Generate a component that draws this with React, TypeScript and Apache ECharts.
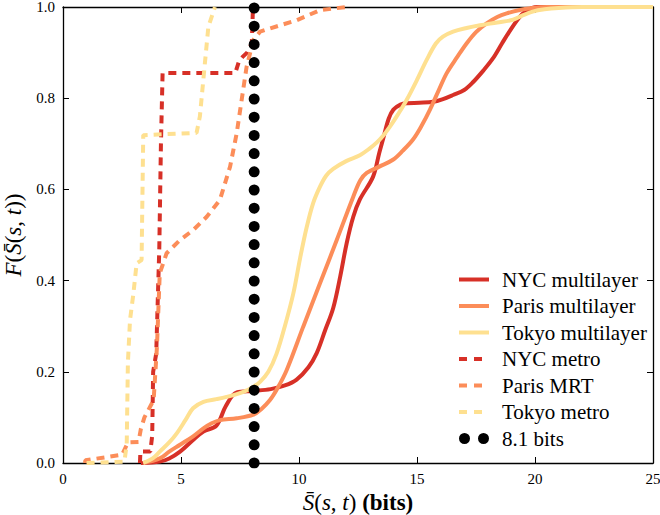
import React, { useEffect, useRef } from "react";
import * as echarts from "echarts";

const xTicks = [0, 5, 10, 15, 20, 25];
const yTicks = [0, 0.2, 0.4, 0.6, 0.8, 1.0];

const seriesNames = [
  "NYC multilayer",
  "Paris multilayer",
  "Tokyo multilayer",
  "NYC metro",
  "Paris MRT",
  "Tokyo metro",
  "8.1 bits",
];

const nycMultilayer: [number, number][] = [
  [3.3, 0], [4.1, 0.003], [4.5, 0.01], [4.96, 0.025], [5.5, 0.05], [5.95, 0.069],
  [6.5, 0.082], [6.9, 0.125], [7.36, 0.155], [8.07, 0.158], [8.8, 0.162], [9.4, 0.17],
  [9.9, 0.183], [10.4, 0.21], [10.75, 0.241], [11.1, 0.29], [11.45, 0.34], [11.75, 0.41],
  [12.02, 0.482], [12.3, 0.54], [12.58, 0.578], [13.14, 0.628], [13.4, 0.68], [13.56, 0.71],
  [13.8, 0.755], [14.0, 0.775], [14.3, 0.786], [14.56, 0.789], [15.1, 0.79], [15.69, 0.792],
  [16.1, 0.798], [16.53, 0.807], [17.0, 0.818], [17.37, 0.835], [17.8, 0.86], [18.2, 0.886],
  [18.6, 0.92], [18.9, 0.945], [19.3, 0.975], [19.6, 0.99], [20.07, 1.0], [25, 1.0],
];

const parisMultilayer: [number, number][] = [
  [3.4, 0], [4.1, 0.01], [4.5, 0.025], [4.96, 0.04], [5.5, 0.058], [5.95, 0.076],
  [6.3, 0.087], [6.65, 0.094], [7.36, 0.098], [8.07, 0.106], [8.4, 0.118], [8.77, 0.138],
  [9.1, 0.165], [9.48, 0.204], [10.18, 0.299], [10.89, 0.394], [11.6, 0.489], [12.3, 0.584],
  [12.6, 0.62], [12.87, 0.636], [13.4, 0.65], [13.98, 0.665], [14.4, 0.685], [14.84, 0.71],
  [15.2, 0.74], [15.55, 0.775], [15.9, 0.815], [16.26, 0.855], [16.7, 0.89], [17.1, 0.92],
  [17.5, 0.945], [17.95, 0.964], [18.4, 0.978], [18.8, 0.986], [19.4, 0.994], [19.9, 0.998],
  [20.5, 1.0], [25, 1.0],
];

const tokyoMultilayer: [number, number][] = [
  [3.4, 0], [3.8, 0.01], [4.1, 0.025], [4.5, 0.045], [4.82, 0.065], [5.2, 0.095],
  [5.51, 0.12], [5.95, 0.134], [6.5, 0.14], [6.93, 0.145], [7.3, 0.15], [7.64, 0.156],
  [8.0, 0.165], [8.35, 0.178], [8.7, 0.2], [9.05, 0.24], [9.4, 0.3], [9.76, 0.372],
  [10.05, 0.45], [10.33, 0.518], [10.6, 0.57], [10.89, 0.606], [11.15, 0.63], [11.45, 0.645],
  [12.0, 0.662], [12.58, 0.675], [13.0, 0.69], [13.3, 0.703], [13.6, 0.72], [13.86, 0.738],
  [14.2, 0.765], [14.56, 0.796], [15.0, 0.84], [15.41, 0.884], [15.8, 0.92], [16.1, 0.935],
  [16.53, 0.946], [17.1, 0.954], [17.67, 0.96], [18.4, 0.966], [19.07, 0.972], [19.5, 0.982],
  [19.9, 0.99], [20.4, 0.995], [21.0, 0.998], [22.0, 1.0], [25, 1.0],
];

const nycMetro: [number, number][] = [
  [3.26, 0], [3.28, 0.025], [3.7, 0.025], [3.78, 0.06], [3.82, 0.2], [3.95, 0.24],
  [4.0, 0.33], [4.08, 0.47], [4.15, 0.7], [4.22, 0.855], [7.3, 0.855], [7.45, 0.88],
  [7.6, 0.89], [7.8, 0.9], [8.0, 0.92], [8.05, 1.0],
];

const parisMRT: [number, number][] = [
  [0.93, 0], [0.95, 0.006], [2.5, 0.018], [2.75, 0.045], [3.2, 0.046], [3.3, 0.075],
  [3.45, 0.1], [3.84, 0.138], [3.98, 0.254], [4.1, 0.416], [4.39, 0.46], [4.96, 0.489],
  [5.52, 0.511], [6.09, 0.54], [6.65, 0.577], [7.08, 0.65], [7.36, 0.723], [7.57, 0.796],
  [7.78, 0.869], [8.07, 0.928], [8.35, 0.946], [8.77, 0.953], [9.9, 0.971], [10.89, 0.993],
  [12.0, 1.0],
];

const tokyoMetro: [number, number][] = [
  [1.0, 0], [2.6, 0.003], [2.7, 0.04], [2.75, 0.22], [2.84, 0.314], [2.98, 0.37],
  [3.12, 0.438], [3.33, 0.445], [3.4, 0.719], [5.66, 0.724], [5.8, 0.76], [6.0, 0.87],
  [6.16, 0.957], [6.44, 1.0],
];

const thresholdLine: [number, number][] = [
  [8.1, 0], [8.1, 1],
];

const RED = "#d73027";
const ORANGE = "#fc8d59";
const YELLOW = "#fee090";
const FONT = "Liberation Serif";

export default function App() {
  const ref = useRef<HTMLDivElement>(null);

  useEffect(() => {
    if (!ref.current) return;
    const chart = echarts.init(ref.current, undefined, { renderer: "svg" });

    const axisCommon = {
      axisLine: { show: true, onZero: false, lineStyle: { color: "#000", width: 1.3 } },
      axisTick: { show: true, inside: true, length: 6, lineStyle: { color: "#000", width: 1 } },
      splitLine: { show: false },
    };

    const solid = (name: string, data: [number, number][], color: string) => ({
      name,
      type: "line",
      data,
      smooth: 0.35,
      symbol: "none",
      lineStyle: { color, width: 4 },
      itemStyle: { color },
      z: 2,
    });
    const dashed = (name: string, data: [number, number][], color: string) => ({
      name,
      type: "line",
      data,
      symbol: "none",
      lineStyle: { color, width: 4, type: [8, 6] },
      itemStyle: { color },
      z: 3,
    });

    chart.setOption({
      animation: false,
      backgroundColor: "#fff",
      grid: {
        left: 63,
        right: 7,
        top: 7,
        bottom: 52,
        containLabel: false,
        outerBoundsMode: "none",
      },
      xAxis: [
        {
          type: "value",
          min: xTicks[0],
          max: xTicks[xTicks.length - 1],
          interval: xTicks[1] - xTicks[0],
          position: "bottom",
          ...axisCommon,
          axisLabel: { color: "#000", fontFamily: FONT, fontSize: 15, margin: 8 },
          name: "{i|S\u0304}({i|s}, {i|t}) {b|(bits)}",
          nameLocation: "middle",
          nameGap: 23,
          nameTextStyle: {
            color: "#000",
            fontFamily: FONT,
            fontSize: 23,
            rich: {
              i: { fontStyle: "italic", fontFamily: FONT, fontSize: 23, color: "#000" },
              b: { fontWeight: "bold", fontFamily: FONT, fontSize: 23, color: "#000" },
            },
          },
        },
        {
          type: "value",
          min: xTicks[0],
          max: xTicks[xTicks.length - 1],
          interval: xTicks[1] - xTicks[0],
          position: "top",
          ...axisCommon,
          axisLabel: { show: false },
        },
      ],
      yAxis: [
        {
          type: "value",
          min: yTicks[0],
          max: yTicks[yTicks.length - 1],
          interval: yTicks[1] - yTicks[0],
          position: "left",
          ...axisCommon,
          axisLabel: {
            color: "#000",
            fontFamily: FONT,
            fontSize: 15,
            margin: 8,
            formatter: (v: number) => v.toFixed(1),
          },
          name: "{i|F}({i|S\u0304}({i|s}, {i|t}))",
          nameLocation: "middle",
          nameGap: 36,
          nameRotate: 90,
          nameTextStyle: {
            color: "#000",
            fontFamily: FONT,
            fontSize: 23,
            rich: {
              i: { fontStyle: "italic", fontFamily: FONT, fontSize: 23, color: "#000" },
            },
          },
        },
        {
          type: "value",
          min: yTicks[0],
          max: yTicks[yTicks.length - 1],
          interval: yTicks[1] - yTicks[0],
          position: "right",
          ...axisCommon,
          axisLabel: { show: false },
        },
      ],
      legend: {
        orient: "vertical",
        left: 452,
        top: 264,
        itemWidth: 30,
        itemHeight: 11,
        itemGap: 5.5,
        textStyle: { color: "#000", fontFamily: FONT, fontSize: 21, padding: [0, 0, 0, 8] },
        data: seriesNames.map((n, i) =>
          i === 6
            ? {
                name: n,
                icon: "path://M5.5,0A5.5,5.5,0,1,1,5.5,11A5.5,5.5,0,1,1,5.5,0ZM24.5,0A5.5,5.5,0,1,1,24.5,11A5.5,5.5,0,1,1,24.5,0Z",
              }
            : {
                name: n,
                itemStyle: { opacity: 0 },
                lineStyle: i >= 3 ? { width: 4, type: [8, 7] } : { width: 4 },
              }
        ),
      },
      series: [
        solid(seriesNames[0], nycMultilayer, RED),
        solid(seriesNames[1], parisMultilayer, ORANGE),
        solid(seriesNames[2], tokyoMultilayer, YELLOW),
        dashed(seriesNames[3], nycMetro, RED),
        dashed(seriesNames[4], parisMRT, ORANGE),
        dashed(seriesNames[5], tokyoMetro, YELLOW),
        {
          name: seriesNames[6],
          type: "line",
          data: thresholdLine,
          symbol: "none",
          lineStyle: { color: "#000", width: 11, type: [0, 18.2], cap: "round" },
          itemStyle: { color: "#000" },
          z: 4,
        },
      ],
    });

    return () => chart.dispose();
  }, []);

  return (
    <div
      ref={ref}
      style={{ position: "fixed", left: 0, top: 0, width: 660, height: 515, background: "#fff" }}
    />
  );
}
